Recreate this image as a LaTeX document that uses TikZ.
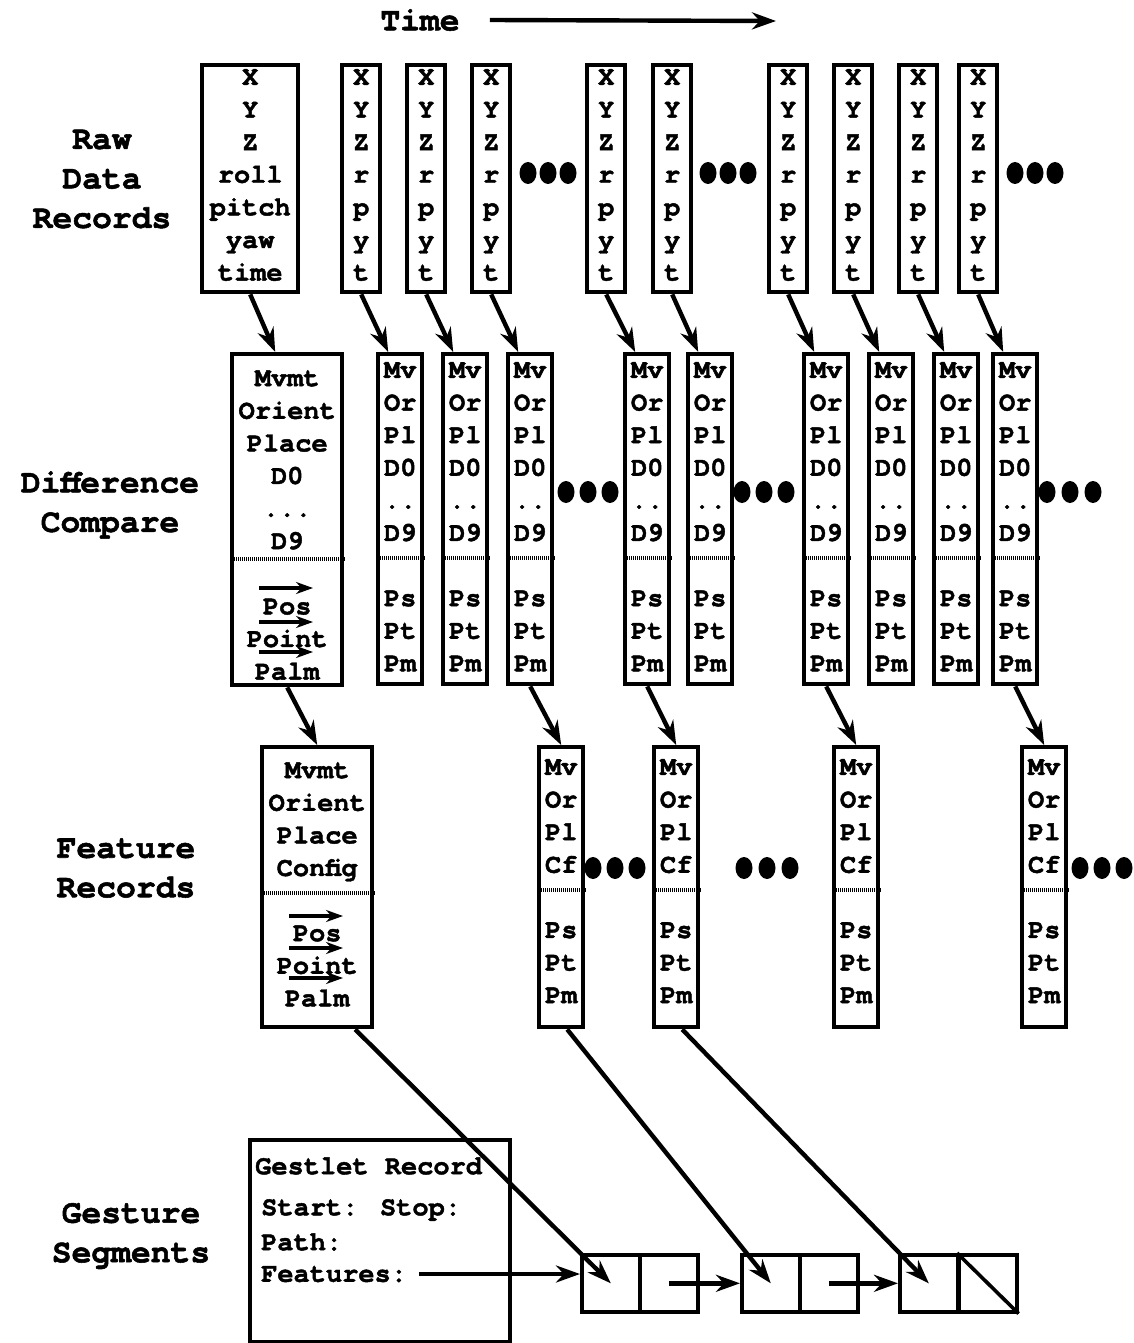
\documentclass[tikz,border=0pt]{standalone}
\usepackage{fontspec}
\setmainfont{TeX Gyre Cursor}[BoldFeatures={FakeBold=1.6}]
\usetikzlibrary{arrows.meta, calc}

\begin{document}
\begin{tikzpicture}[x=1pt, y=-1pt, line width=4.4pt, >={Stealth[length=24pt, width=17pt]},
    rec/.style={draw, rectangle, line width=4.4pt, inner sep=0pt, anchor=north west},
    cell/.style={draw, rectangle, line width=3.6pt, inner sep=0pt, minimum width=58pt, minimum height=57pt, anchor=north west},
    rtxt/.style={font=\fontsize{27}{32.6}\selectfont\bfseries, align=center, inner sep=0pt, anchor=north},
    gtxt/.style={font=\fontsize{27}{32}\selectfont\bfseries, inner sep=0pt, anchor=west},
    lab/.style={font=\fontsize{33}{39.5}\selectfont\bfseries, align=center, inner sep=0pt},
    sep/.style={line width=4pt, dash pattern=on 1.2pt off 0.8pt},
    vec/.style={-{Stealth[length=17pt, width=12pt]}, line width=3.4pt}]
    \useasboundingbox (0,0) rectangle (1134,1343);

    % Labels
    \node[lab] (time) at (420,20) {Time};
    \coordinate (tend) at (776,21);
    \node[lab] (rawlab) at (102,179) {Raw\\Data\\Records};
    \node[lab] (dclab) at (110,505) {Difference\\Compare};
    \node[lab] (frlab) at (126,868) {Feature\\Records};
    \node[lab] (gslab) at (131,1236) {Gesture\\Segments};

    % Raw data records
    \node[rec, minimum width=96pt, minimum height=227pt] (raw0) at (200,63) {};
    \node[rtxt] (rawt0) at ($(raw0.north)+(0,4)$) {X\\Y\\Z\\roll\\pitch\\yaw\\time};
    \foreach \i/\x in {1/340, 2/405, 3/470, 4/585, 5/651, 6/767, 7/832, 8/897, 9/957} {
        \node[rec, minimum width=38pt, minimum height=227pt] (raw\i) at (\x,63) {};
        \node[rtxt] (rawt\i) at ($(raw\i.north)+(0,4)$) {X\\Y\\Z\\r\\p\\y\\t};
    }

    % Difference compare
    \node[rec, minimum width=110pt, minimum height=331pt] (dc0) at (230,352) {};
    \node[rtxt] (dct0) at ($(dc0.north)+(0,16)$) {Mvmt\\Orient\\Place\\D0\\...\\D9\\[32.6pt]Pos\\Point\\Palm};
    \draw[sep] ([yshift=-207pt]dc0.north west) -- ([yshift=-207pt]dc0.north east);
    \foreach \i/\x in {1/376, 2/441, 3/506, 4/623, 5/686, 6/802, 7/867, 8/932, 9/991} {
        \node[rec, minimum width=44pt, minimum height=330pt] (dc\i) at (\x,352) {};
        \node[rtxt] (dct\i) at ($(dc\i.north)+(0,8)$) {Mv\\Or\\Pl\\D0\\..\\D9\\[32.6pt]Ps\\Pt\\Pm};
        \draw[sep] ([yshift=-206pt]dc\i.north west) -- ([yshift=-206pt]dc\i.north east);
    }
    \draw[vec] (259,588) -- (313,588);
    \draw[vec] (259,622) -- (313,622);
    \draw[vec] (259,652) -- (313,652);

    % Feature records
    \node[rec, minimum width=110pt, minimum height=280pt] (fr0) at (260,745) {};
    \node[rtxt] (frt0) at ($(fr0.north)+(0,15)$) {Mvmt\\Orient\\Place\\Config\\[32.6pt]Pos\\Point\\Palm};
    \draw[sep] ([yshift=-148pt]fr0.north west) -- ([yshift=-148pt]fr0.north east);
    \foreach \i/\x in {1/537, 2/652, 3/832, 4/1020} {
        \node[rec, minimum width=44pt, minimum height=280pt] (fr\i) at (\x,745) {};
        \node[rtxt] (frt\i) at ($(fr\i.north)+(0,12)$) {Mv\\Or\\Pl\\Cf\\[32.6pt]Ps\\Pt\\Pm};
        \draw[sep] ([yshift=-145pt]fr\i.north west) -- ([yshift=-145pt]fr\i.north east);
    }
    \draw[vec] (289,916) -- (343,916);
    \draw[vec] (289,948) -- (343,948);
    \draw[vec] (289,978) -- (343,978);

    % Gesture segments
    \node[rec, minimum width=260pt, minimum height=202pt] (gest) at (248,1138) {};
    \node[gtxt] (gtitle) at (253,1166) {Gestlet Record};
    \node[gtxt] (gstart) at (259,1210) {Start: Stop:};
    \node[gtxt] (gpath) at (259,1242) {Path:};
    \node[gtxt] (gfeat) at (259,1274) {Features:};
    \node[cell] (ll1a) at (580,1253) {};
    \node[cell] (ll1b) at (638,1253) {};
    \node[cell] (ll2a) at (740,1253) {};
    \node[cell] (ll2b) at (798,1253) {};
    \node[cell] (ll3a) at (898,1253) {};
    \node[cell] (ll3b) at (957,1253) {};
    \draw[line width=3.6pt] (ll3b.north west) -- (ll3b.south east);

    % Ellipses (more records)
    \foreach \x/\y/\d in {528/173/20, 708/173/20, 1015/173/20,
                          566/492/22, 742/492/22, 1047/492/23,
                          593/868/22, 744/868/23, 1080/868/22}
        \foreach \k in {0,1,2}
            \fill (\x+\d*\k,\y) ellipse [x radius=8.5, y radius=11];

    % Edges
    \draw[->] ([xshift=28pt]time.east) -- (tend);
    \foreach \i in {0,...,9}
        \draw[->] (raw\i.south) -- ($(dc\i.north)+(-12,0)$);
    \foreach \a/\b in {0/0, 3/1, 4/2, 6/3, 9/4}
        \draw[->] (dc\a.south) -- (fr\b.north);
    \draw[->] ($(fr0.south)+(38,0)$) -- (ll1a.center);
    \draw[->] ($(fr1.south)+(6,0)$) -- (ll2a.center);
    \draw[->] ($(fr2.south)+(6,0)$) -- (ll3a.center);
    \draw[->] ([xshift=10pt]gfeat.east) -- (gfeat.east -| ll1a.west);
    \draw[->] (ll1b.center) -- (ll2a.west);
    \draw[->] (ll2b.center) -- (ll3a.west);
\end{tikzpicture}
\end{document}
